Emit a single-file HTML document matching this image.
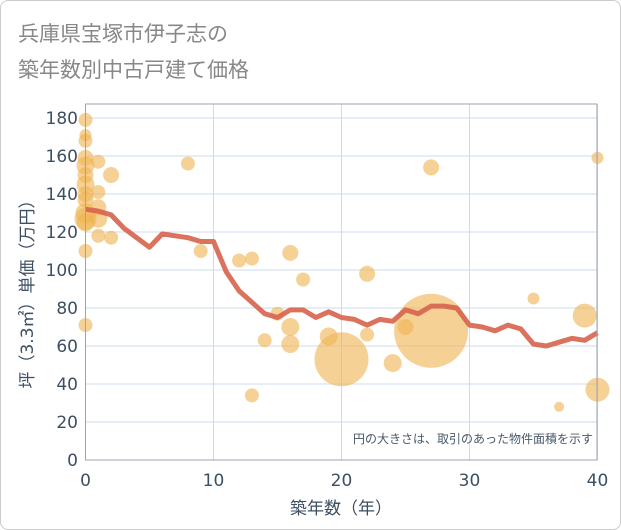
<!DOCTYPE html>
<html><head><meta charset="utf-8"><style>
body{margin:0;background:#fff}
#c{position:relative;width:619px;height:528px;border:1px solid #ccc;border-radius:8px;overflow:hidden;font-family:"DejaVu Sans","Noto Sans CJK JP",sans-serif}
</style></head><body>
<div id="c">
<svg id="s" width="621" height="530" style="position:absolute;left:-1px;top:-1px">
<text x="18" y="41" font-size="21" fill="#888" font-family="DejaVu Sans,Noto Sans CJK JP,sans-serif">兵庫県宝塚市伊子志の</text>
<text x="18" y="77" font-size="21" fill="#888" font-family="DejaVu Sans,Noto Sans CJK JP,sans-serif">築年数別中古戸建て価格</text>
<g id="grid"></g><g id="bub"></g><g id="ln"></g><g id="ax"></g>
<text x="593" y="443" font-size="12" fill="#4a5868" text-anchor="end" font-family="DejaVu Sans,Noto Sans CJK JP,sans-serif">円の大きさは、取引のあった物件面積を示す</text>
<text x="341" y="514" font-size="17" fill="#3d4f63" text-anchor="middle" font-family="DejaVu Sans,Noto Sans CJK JP,sans-serif">築年数（年）</text>
<text transform="translate(33,290) rotate(-90)" font-size="17" fill="#3d4f63" text-anchor="middle" font-family="DejaVu Sans,Noto Sans CJK JP,sans-serif">坪（3.3㎡）単価（万円）</text>
</svg></div>
<script>
const xTicks=[0,10,20,30,40];
const yTicks=[0,20,40,60,80,100,120,140,160,180];
const lineYears=[0,1,2,3,4,5,6,7,8,9,10,11,12,13,14,15,16,17,18,19,20,21,22,23,24,25,26,27,28,29,30,31,32,33,34,35,36,37,38,39,40];
const lineValues=[132,131,129,122,117,112,119,118,117,115,115,99,89,83,77,75,79,79,75,78,75,74,71,74,73,79,77,81,81,80,71,70,68,71,69,61,60,62,64,63,67];
const bubX=[0,0,0,0,0,0,0,0,0,0,0,0,0,0,1,1,1,1,1,2,2,8,9,12,13,13,14,15,16,16,16,17,19,20,22,22,24,25,27,27,35,37,39,40,40];
const bubY=[179,171,168,159,155,150,145,140,137,130,127,125,110,71,157,141,133,118,127,150,117,156,110,105,106,34,63,77,109,70,61,95,65,53,98,66,51,70,154,68,85,28,76,37,159];
const bubR=[7,6,7,8,9,8,9,8,8,10,11,9,7,7,7,7,8,7,9,8,7,7,7,7,7,7,7,7,8,9,9,7,9,27,8,7,9,8,8,37,6,5,12,12,6];
const X=v=>85.5+v*12.8, Y=v=>460-v*1.9;
const NS="http://www.w3.org/2000/svg";
function mk(t,a,p){const e=document.createElementNS(NS,t);for(const k in a)e.setAttribute(k,a[k]);p.appendChild(e);return e;}
const g=document.getElementById('grid'),ax=document.getElementById('ax');
yTicks.forEach(v=>{const l=mk('line',{x1:85.5,x2:597,y1:Y(v),y2:Y(v),stroke:'#cfdbe8','stroke-width':1},g);

const t=mk('text',{x:78,y:Y(v)+6,'font-size':17,fill:'#3d4f63','text-anchor':'end'},ax);t.textContent=v;
});
xTicks.forEach(v=>{const l=mk('line',{x1:X(v),x2:X(v),y1:104,y2:460,stroke:'#cfdbe8','stroke-width':1},g);

const t=mk('text',{x:X(v),y:486,'font-size':17,fill:'#3d4f63','text-anchor':'middle'},ax);t.textContent=v;
});
const fr=mk('rect',{x:85.5,y:104,width:511.5,height:356,fill:'none',stroke:'#9aa5b1','stroke-width':1},ax);

const b=document.getElementById('bub');
bubX.forEach((x,i)=>{const c=mk('circle',{cx:X(x),cy:Y(bubY[i]),r:bubR[i],fill:'#f0b350','fill-opacity':0.6},b);
});
const pl=mk('polyline',{points:lineYears.map((x,i)=>X(x)+','+Y(lineValues[i])).join(' '),fill:'none',stroke:'#d7634d','stroke-width':5,'stroke-opacity':0.9,'stroke-linejoin':'round'},document.getElementById('ln'));

</script></body></html>
